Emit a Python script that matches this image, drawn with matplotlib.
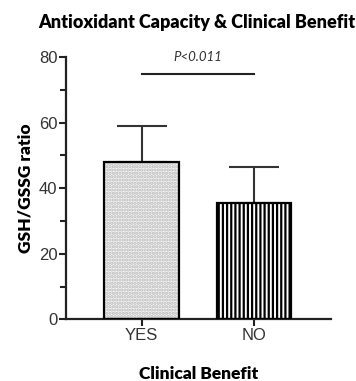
import matplotlib
matplotlib.use("Agg")
import matplotlib.pyplot as plt
from matplotlib.ticker import MultipleLocator

# data
groups = ["YES", "NO"]
means = [48.0, 35.4]
sd_upper = [10.9, 11.1]
p_text = "P<0.011"
p_level = 75

plt.rcParams["hatch.linewidth"] = 1.6

fig = plt.figure(figsize=(3.56, 3.81), dpi=100)
ax = fig.add_axes([0.1846, 0.162, 0.7444, 0.688])

x = list(range(len(groups)))
w = 0.66

# YES: dotted grey fill
ax.bar(x[0], means[0], width=w, color="#f4f4f4", edgecolor="#b8b8b8",
       hatch=".....", linewidth=0, zorder=2)
# NO: vertical stripes
ax.bar(x[1], means[1], width=w, color="white", edgecolor="black",
       hatch="||||", linewidth=0, zorder=2)
# outlines
ax.bar(x, means, width=w, color="none", edgecolor="black", linewidth=1.6, zorder=3)

ax.errorbar(x, means, yerr=[[0, 0], sd_upper], fmt="none", ecolor="#333333",
            elinewidth=1.5, capsize=18, capthick=1.5, zorder=1)

# significance bar
ax.plot([x[0], x[1]], [p_level, p_level], color="#222222", lw=1.5)
ax.text(0.5, p_level + 3.2, p_text, ha="center", va="bottom", fontsize=9.5,
        style="italic", color="#333333", family="Lato")

ax.set_xlim(-0.674, 1.68)
ax.set_ylim(0, 80)
ax.set_xticks(x)
ax.set_xticklabels(groups)
ax.yaxis.set_major_locator(MultipleLocator(20))
ax.yaxis.set_minor_locator(MultipleLocator(10))

for s in ["top", "right"]:
    ax.spines[s].set_visible(False)
for s in ["left", "bottom"]:
    ax.spines[s].set_linewidth(1.6)
    ax.spines[s].set_color("#222222")

ax.tick_params(axis="both", which="major", length=5, width=1.5, color="#222222",
               labelsize=12, labelcolor="#333333", pad=1)
ax.tick_params(axis="y", which="minor", length=4, width=1.5, color="#222222")
for lab in ax.get_xticklabels() + ax.get_yticklabels():
    lab.set_family("Liberation Sans")

ax.set_ylabel("GSH/GSSG ratio", fontsize=12.5, fontweight="heavy", family="Lato",
              labelpad=4)
ax.set_xlabel("Clinical Benefit", fontsize=12.5, fontweight="heavy", family="Lato",
              labelpad=17)
fig.text(0.552, 0.94, "Antioxidant Capacity & Clinical Benefit", ha="center",
         va="center", fontsize=13, fontweight="heavy", family="Lato")

fig.savefig("out.png", dpi=100)
